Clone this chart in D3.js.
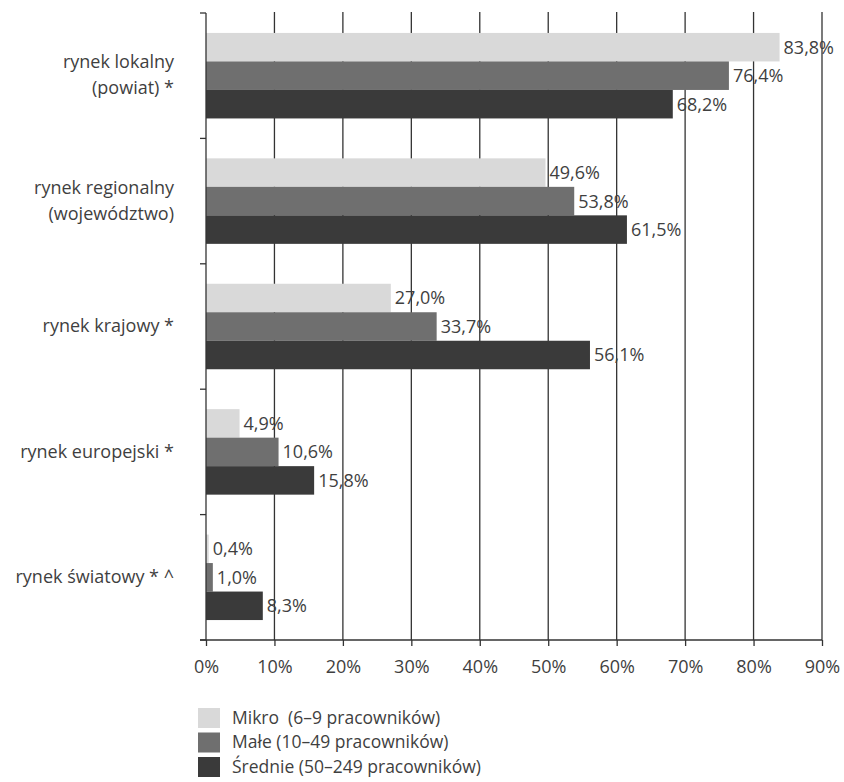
<!DOCTYPE html>
<html>
<head>
<meta charset="utf-8">
<script src="https://cdn.jsdelivr.net/npm/d3@7"></script>
<style>
  body { margin: 0; background: #fff; }
  svg { display: block; font-family: "Open Sans", "Noto Sans", sans-serif; }
  svg text { white-space: pre; }
</style>
</head>
<body>
<svg id="chart" width="844" height="782"></svg>
<script>
// Market reach of firms by size class (share of firms, %)
const categories = [
  ["rynek lokalny", "(powiat) *"],
  ["rynek regionalny", "(województwo)"],
  ["rynek krajowy *"],
  ["rynek europejski *"],
  ["rynek światowy * ^"]
];
const seriesNames = [
  "Mikro  (6–9 pracowników)",
  "Małe (10–49 pracowników)",
  "Średnie (50–249 pracowników)"
];
const mikro   = [83.8, 49.6, 27.0, 4.9, 0.4];
const male    = [76.4, 53.8, 33.7, 10.6, 1.0];
const srednie = [68.2, 61.5, 56.1, 15.8, 8.3];
const xTicks  = [0, 10, 20, 30, 40, 50, 60, 70, 80, 90];
const colors  = ["#d9d9d9", "#6f6f6f", "#3a3a3a"];

const series = [mikro, male, srednie];
const svg = d3.select("#chart");

const plot = { left: 206, right: 822, top: 13, bottom: 640 };
const fontSize = 18;
const textColor = "#3f3f3f";
const axisColor = "#333";

const x = d3.scaleLinear().domain([0, 90]).range([plot.left, plot.right]);
const y = d3.scaleBand().domain(d3.range(categories.length)).range([plot.top, plot.bottom]).paddingInner(0).paddingOuter(0);
const inner = d3.scaleBand().domain(d3.range(series.length)).range([0, y.bandwidth()]).paddingInner(0).paddingOuter(0.7);

const fmt = v => d3.format(".1f")(v).replace(".", ",") + "%";

// vertical gridlines
svg.append("g")
  .selectAll("line")
  .data(xTicks.slice(1))
  .join("line")
  .attr("x1", d => x(d)).attr("x2", d => x(d))
  .attr("y1", plot.top - 1).attr("y2", plot.bottom)
  .attr("stroke", axisColor).attr("stroke-width", 1.3);

// bars
const groups = svg.append("g")
  .selectAll("g")
  .data(categories.map((c, i) => i))
  .join("g")
  .attr("transform", i => `translate(0,${y(i)})`);

groups.selectAll("rect")
  .data(i => series.map((s, k) => ({ k, v: s[i] })))
  .join("rect")
  .attr("x", x(0))
  .attr("y", d => inner(d.k))
  .attr("width", d => x(d.v) - x(0))
  .attr("height", inner.bandwidth())
  .attr("fill", d => colors[d.k]);

// value labels
groups.selectAll("text")
  .data(i => series.map((s, k) => ({ k, v: s[i] })))
  .join("text")
  .attr("x", d => x(d.v) + 4)
  .attr("y", d => inner(d.k) + inner.bandwidth() / 2)
  .attr("dy", "0.36em")
  .attr("font-size", fontSize)
  .attr("fill", textColor)
  .text(d => fmt(d.v));

// y axis with ticks at band boundaries
const yAxis = svg.append("g");
yAxis.append("line")
  .attr("x1", plot.left).attr("x2", plot.left).attr("y1", plot.top).attr("y2", plot.bottom)
  .attr("stroke", axisColor).attr("stroke-width", 1.3);
yAxis.selectAll("line.tick")
  .data(d3.range(categories.length + 1))
  .join("line").attr("class", "tick")
  .attr("x1", plot.left - 6).attr("x2", plot.left)
  .attr("y1", i => plot.top + i * y.step()).attr("y2", i => plot.top + i * y.step())
  .attr("stroke", axisColor).attr("stroke-width", 1.3);

// category labels
svg.append("g")
  .selectAll("text")
  .data(categories.map((c, i) => ({ c, i })))
  .join("text")
  .attr("text-anchor", "end")
  .attr("font-size", fontSize)
  .attr("fill", textColor)
  .each(function (d) {
    const cy = y(d.i) + y.bandwidth() / 2;
    const n = d.c.length;
    d3.select(this).selectAll("tspan")
      .data(d.c)
      .join("tspan")
      .attr("x", 174)
      .attr("y", (t, j) => cy + (j - (n - 1) / 2) * 26)
      .attr("dy", "0.32em")
      .text(t => t);
  });

// x axis
const xAxis = d3.axisBottom(x)
  .tickValues(xTicks)
  .tickFormat(d => d + "%")
  .tickSize(6)
  .tickPadding(14);
const gx = svg.append("g").attr("transform", `translate(0,${plot.bottom})`).call(xAxis);
gx.select(".domain").attr("stroke", axisColor).attr("stroke-width", 1.3).attr("d", `M${plot.left - 6},0H${plot.right}`);
gx.selectAll(".tick line").attr("stroke", axisColor).attr("stroke-width", 1.3);
gx.selectAll(".tick text").attr("font-size", fontSize).attr("fill", textColor).attr("font-family", "'Open Sans', sans-serif");

// legend
const legend = svg.append("g").attr("transform", "translate(198,708)");
const li = legend.selectAll("g")
  .data(seriesNames.map((n, k) => ({ n, k })))
  .join("g")
  .attr("transform", d => `translate(0,${d.k * 24.5})`);
li.append("rect").attr("width", 22).attr("height", 20).attr("fill", d => colors[d.k]);
li.append("text")
  .attr("x", 34).attr("y", 10).attr("dy", "0.34em")
  .attr("font-size", 17.5).attr("fill", textColor)
  .text(d => d.n);
</script>
</body>
</html>
